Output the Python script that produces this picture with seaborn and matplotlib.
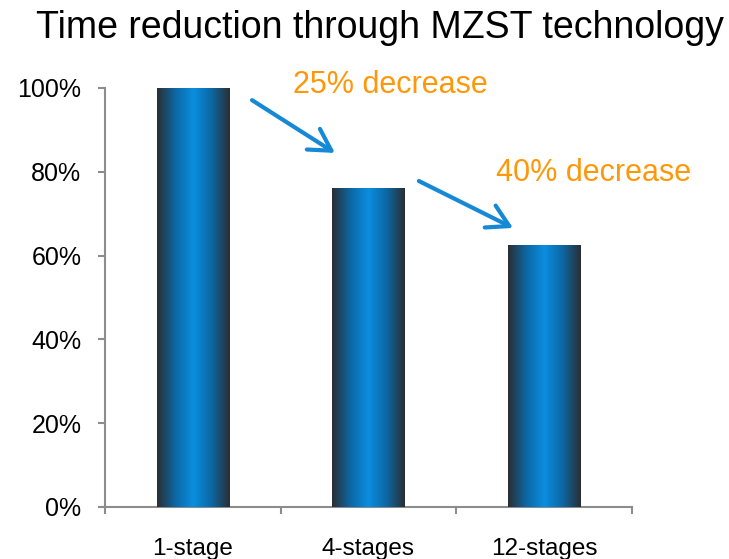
import numpy as np
import matplotlib.pyplot as plt
import seaborn as sns
from matplotlib.colors import LinearSegmentedColormap
from matplotlib.ticker import PercentFormatter

# values
stages = ['1-stage', '4-stages', '12-stages']
time_share = [1.00, 0.761, 0.625]
notes = ['25% decrease', '40% decrease']

sns.set_style('white')
plt.rcParams['font.family'] = ['Liberation Sans', 'DejaVu Sans']
plt.rcParams['text.color'] = 'black'

fig = plt.figure(figsize=(7.29, 5.59), dpi=100)
ax = fig.add_axes([105/729, 52/559, 527/729, 419/559])
sns.barplot(x=stages, y=time_share, ax=ax, width=0.41, color='#0a88d8')

# cylinder-like shading: dark edges, bright blue centre
cmap = LinearSegmentedColormap.from_list(
    'bar', ['#2a2e33', '#0c67a3', '#0a8ee0', '#0c67a3', '#2a2e33'])
grad = np.linspace(0, 1, 256).reshape(1, -1)
for p in ax.patches:
    x0, y0, w, h = p.get_x(), p.get_y(), p.get_width(), p.get_height()
    ax.imshow(grad, cmap=cmap, aspect='auto', interpolation='bilinear',
              extent=[x0, x0 + w, y0, y0 + h], zorder=3)
    p.set_visible(False)

ax.set_xlim(-0.5, 2.5)
ax.set_ylim(0, 1)

sns.despine(ax=ax)
for s in ['left', 'bottom']:
    ax.spines[s].set_color('#8c8c8c')
    ax.spines[s].set_linewidth(1.5)

ax.set_yticks(np.arange(0, 1.01, 0.2))
ax.yaxis.set_major_formatter(PercentFormatter(1.0, decimals=0))
ax.tick_params(axis='y', direction='out', length=5, width=1.5, color='#8c8c8c',
               labelsize=18, labelcolor='black', pad=12, left=True)

ax.set_xticks([-0.5, 0.5, 1.5, 2.5])
ax.set_xticklabels([])
ax.set_xticks([0, 1, 2], minor=True)
ax.set_xticklabels(stages, minor=True)
ax.tick_params(axis='x', which='major', direction='out', length=5, width=1.5,
               color='#8c8c8c', bottom=True)
ax.tick_params(axis='x', which='minor', length=0, labelsize=17.5,
               labelcolor='black', pad=22)

arrow = dict(arrowstyle='->,head_length=0.7,head_width=0.4', lw=3,
             color='#1589d5', mutation_scale=22, shrinkA=0, shrinkB=0)
ax.annotate('', xy=(0.809, 0.845), xytext=(0.337, 0.971), arrowprops=arrow,
            annotation_clip=False)
ax.annotate('', xy=(1.823, 0.666), xytext=(1.287, 0.778), arrowprops=arrow,
            annotation_clip=False)
ax.text(0.57, 1.007, notes[0], color='#fd980a', fontsize=22, va='center',
        ha='left', clip_on=False)
ax.text(1.726, 0.797, notes[1], color='#fd980a', fontsize=22, va='center',
        ha='left', clip_on=False)

fig.text(0.521, 0.95, 'Time reduction through MZST technology', fontsize=27,
         ha='center', va='center')

fig.savefig('out.png', dpi=100)
